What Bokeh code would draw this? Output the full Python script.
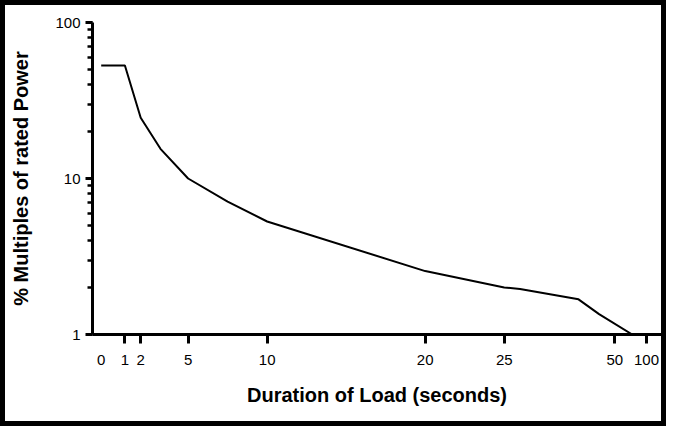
from bokeh.plotting import figure
from bokeh.models import FixedTicker, LogTicker, LinearAxis, Range1d, PrintfTickFormatter
from bokeh.embed import file_html
from bokeh.resources import INLINE

# Axis positions (linear) and their printed labels
tick_pos = [1, 2, 5, 10, 20, 25, 32, 34]
tick_labels = ["1", "2", "5", "10", "20", "25", "50", "100"]
zero_pos = -0.5
zero_label = "0"
y_ticks = [1, 10, 100]

# Curve (x = axis position, y = % multiples of rated power)
duration = [-0.5, 1, 2, 3.25, 5, 7.5, 10, 20, 25, 26, 29.7, 31, 33.1]
multiples = [53, 53, 24.5, 15.5, 10, 7.1, 5.3, 2.55, 2.0, 1.96, 1.68, 1.35, 1.0]

FONT = "Liberation Sans"
TICK_FS = "15px"
TITLE_FS = "20px"

p = figure(width=656, height=416, output_backend="svg", toolbar_location=None,
           y_axis_type="log", x_range=Range1d(-1.05, 34.95), y_range=Range1d(1, 100),
           min_border_left=87, min_border_right=10, min_border_top=17, min_border_bottom=97)
p.styles = {"border": "5px solid black", "box-sizing": "content-box"}
p.outline_line_color = None
p.xgrid.visible = False
p.ygrid.visible = False
p.background_fill_color = "white"
p.border_fill_color = "white"

p.line(duration, multiples, line_color="black", line_width=2)

# inner x axis: line + ticks only
xa = p.xaxis[0]
xa.ticker = FixedTicker(ticks=tick_pos)
xa.axis_line_width = 3
xa.major_tick_line_width = 3
xa.major_tick_out = 9
xa.major_tick_in = 0
xa.minor_tick_line_color = None
xa.major_label_standoff = 0
xa.major_label_text_font_size = "0px"
xa.major_label_text_color = None

# outer x axis: labels (including the untick'd 0) and title
label_pos = [zero_pos] + tick_pos
label_txt = [zero_label] + tick_labels
xb = LinearAxis(ticker=FixedTicker(ticks=label_pos),
                major_label_overrides={t: l for t, l in zip(label_pos, label_txt)})
xb.axis_line_color = None
xb.major_tick_line_color = None
xb.minor_tick_line_color = None
xb.major_tick_out = 0
xb.major_tick_in = 0
xb.major_label_standoff = 11
xb.major_label_text_font = FONT
xb.major_label_text_font_size = TICK_FS
xb.major_label_text_color = "black"
xb.axis_label = "Duration of Load (seconds)"
xb.axis_label_text_font = FONT
xb.axis_label_text_font_style = "bold"
xb.axis_label_text_font_size = TITLE_FS
xb.axis_label_text_color = "black"
xb.axis_label_standoff = 16
p.add_layout(xb, "below")

ya = p.yaxis[0]
ya.ticker = LogTicker(num_minor_ticks=10)
ya.formatter = PrintfTickFormatter(format="%d")
ya.major_label_overrides = {v: str(v) for v in y_ticks}
ya.axis_line_width = 3
ya.major_tick_line_width = 3
ya.major_tick_out = 7
ya.major_tick_in = 0
ya.minor_tick_line_width = 2.5
ya.minor_tick_out = 5
ya.minor_tick_in = 0
ya.major_label_standoff = 5
ya.major_label_text_font = FONT
ya.major_label_text_font_size = TICK_FS
ya.major_label_text_color = "black"
ya.axis_label = "% Multiples of rated Power"
ya.axis_label_text_font = FONT
ya.axis_label_text_font_style = "bold"
ya.axis_label_text_font_size = TITLE_FS
ya.axis_label_text_color = "black"
ya.axis_label_standoff = 20

open("out.html", "w").write(file_html(p, INLINE))
